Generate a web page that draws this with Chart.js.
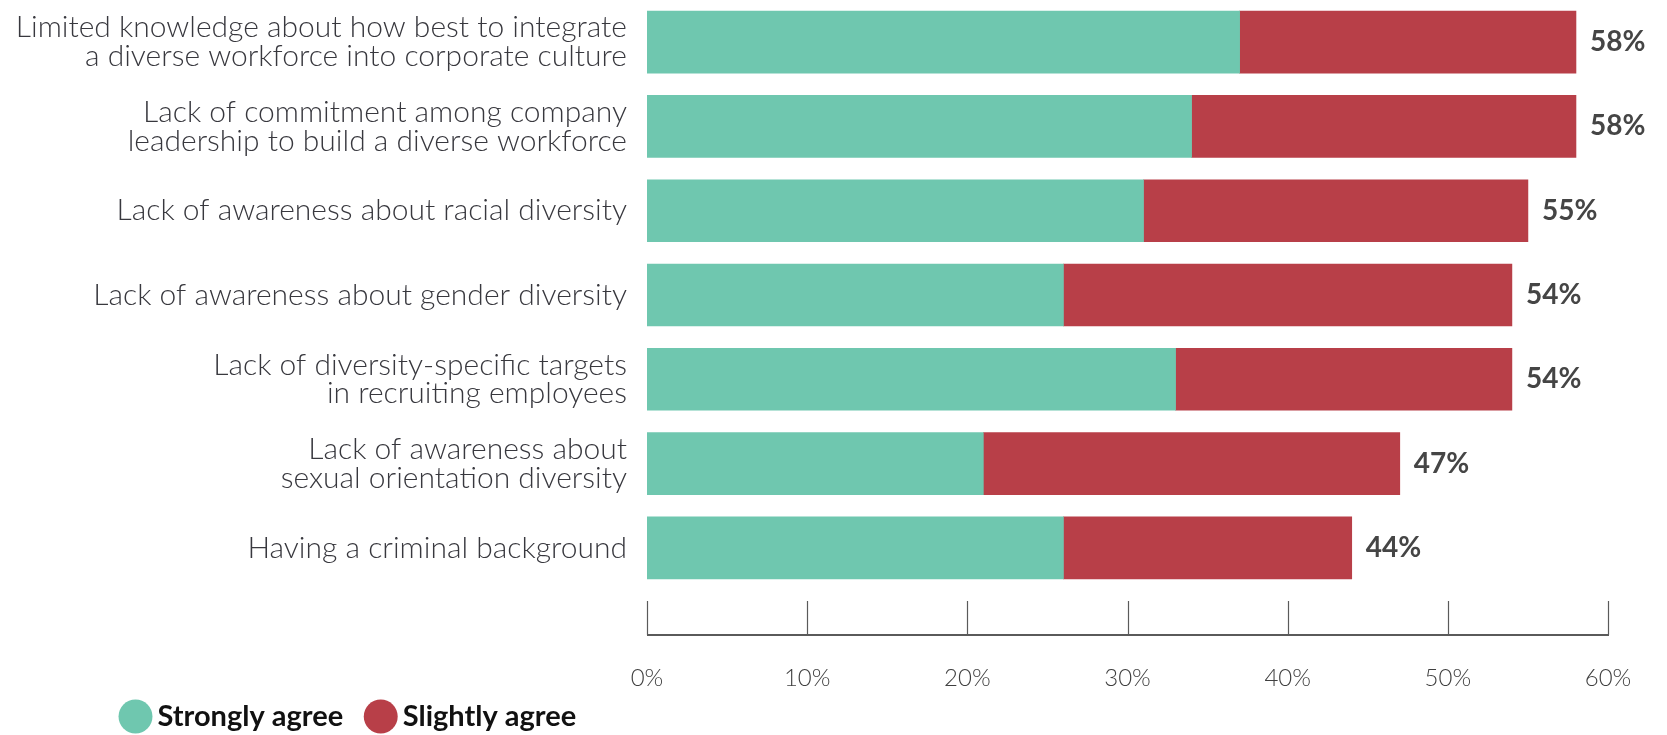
<!DOCTYPE html>
<html>
<head>
<meta charset="utf-8">
<title>Barriers to a diverse workforce</title>
<script src="https://cdn.jsdelivr.net/npm/chart.js@4.4.1/dist/chart.umd.min.js"></script>
<style>
    html, body { margin: 0; padding: 0; background: #fff; }
    #wrap { position: relative; width: 1667px; height: 735px; }
</style>
</head>
<body>
<div id="wrap"><canvas id="barrierChart"></canvas></div>
<script>
// Survey answers per barrier (percent of respondents)
const categories = [
    ['Limited knowledge about how best to integrate', 'a diverse workforce into corporate culture'],
    ['Lack of commitment among company', 'leadership to build a diverse workforce'],
    'Lack of awareness about racial diversity',
    'Lack of awareness about gender diversity',
    ['Lack of diversity-specific targets', 'in recruiting employees'],
    ['Lack of awareness about', 'sexual orientation diversity'],
    'Having a criminal background'
];
const stronglyAgree = [37, 34, 31, 26, 33, 21, 26];
const slightlyAgree = [21, 24, 24, 28, 21, 26, 18];
const xTicks = [0, 10, 20, 30, 40, 50, 60];

const COLORS = {
    strongly: '#6fc7af',
    slightly: '#b83f48',
    label: '#38383e',
    value: '#454545',
    tick: '#3f3f3f',
    axis: '#5a5a5a'
};

const FONT = 'Lato, "Open Sans", sans-serif';

// Axis line with short upward tick marks, sitting below the bars
const axisTicksPlugin = {
    id: 'axisTicks',
    afterDraw(chart) {
        const ctx = chart.ctx;
        const xs = chart.scales.x;
        const base = chart.chartArea.bottom + 45;
        ctx.save();
        ctx.strokeStyle = COLORS.axis;
        ctx.lineWidth = 2;
        ctx.beginPath();
        ctx.moveTo(xs.getPixelForValue(xTicks[0]), base);
        ctx.lineTo(xs.getPixelForValue(xTicks[xTicks.length - 1]) + 1, base);
        ctx.stroke();
        ctx.lineWidth = 1.2;
        xTicks.forEach(v => {
            const x = Math.round(xs.getPixelForValue(v)) + 0.5;
            ctx.beginPath();
            ctx.moveTo(x, base);
            ctx.lineTo(x, base - 34);
            ctx.stroke();
        });
        ctx.restore();
    }
};

// Total percentage written at the end of each stacked bar
const totalLabelPlugin = {
    id: 'totalLabels',
    afterDatasetsDraw(chart) {
        const ctx = chart.ctx;
        const meta = chart.getDatasetMeta(1);
        ctx.save();
        ctx.font = `bold 28px ${FONT}`;
        ctx.fillStyle = COLORS.value;
        ctx.textAlign = 'left';
        ctx.textBaseline = 'middle';
        meta.data.forEach((bar, i) => {
            const total = stronglyAgree[i] + slightlyAgree[i];
            ctx.fillText(total + '%', bar.x + 14, bar.y);
        });
        ctx.restore();
    }
};

// Legend sits under the axis labels, indented from the left edge
const legendPlacePlugin = {
    id: 'legendPlace',
    afterLayout(chart) {
        const legend = chart.legend;
        legend.left = 98;
        legend.top = chart.chartArea.bottom + 82;
    }
};

function createBarrierChart(canvasId) {
    const ctx = document.getElementById(canvasId);
    if (!ctx) {
        console.error(`Canvas element ${canvasId} not found`);
        return null;
    }

    return new Chart(ctx, {
        type: 'bar',
        data: {
            labels: categories,
            datasets: [{
                label: 'Strongly agree',
                data: stronglyAgree,
                backgroundColor: COLORS.strongly,
                borderWidth: 0,
                barThickness: 62
            }, {
                label: 'Slightly agree',
                data: slightlyAgree,
                backgroundColor: COLORS.slightly,
                borderWidth: 0,
                barThickness: 62
            }]
        },
        options: {
            indexAxis: 'y',
            responsive: true,
            maintainAspectRatio: false,
            animation: false,
            layout: {
                padding: { left: 0, right: 59, top: 0, bottom: -28 }
            },
            plugins: {
                tooltip: { enabled: false },
                legend: {
                    display: true,
                    position: 'bottom',
                    align: 'start',
                    labels: {
                        usePointStyle: true,
                        pointStyle: 'circle',
                        boxWidth: 15,
                        boxHeight: 24,
                        padding: 30,
                        color: '#111',
                        font: { family: FONT, size: 29, weight: 'bold' }
                    }
                }
            },
            scales: {
                x: {
                    stacked: true,
                    min: 0,
                    max: 60,
                    grid: { display: false },
                    border: { display: false },
                    afterBuildTicks(scale) { scale.ticks = xTicks.map(v => ({ value: v })); },
                    afterFit(scale) {
                        scale.height = 104;
                        scale.paddingLeft = 0;
                        scale.paddingRight = 0;
                    },
                    ticks: {
                        padding: 66,
                        color: COLORS.tick,
                        font: { family: FONT, size: 24, weight: 300 },
                        callback: v => v + '%'
                    }
                },
                y: {
                    stacked: true,
                    grid: { display: false },
                    border: { display: false },
                    afterFit(scale) {
                        scale.width = 647;
                        scale.paddingTop = 0;
                        scale.paddingBottom = 0;
                    },
                    ticks: {
                        padding: 12,
                        color: COLORS.label,
                        font: { family: FONT, size: 30, weight: 300, lineHeight: 0.96 }
                    }
                }
            }
        },
        plugins: [axisTicksPlugin, totalLabelPlugin, legendPlacePlugin]
    });
}

createBarrierChart('barrierChart');
</script>
</body>
</html>
